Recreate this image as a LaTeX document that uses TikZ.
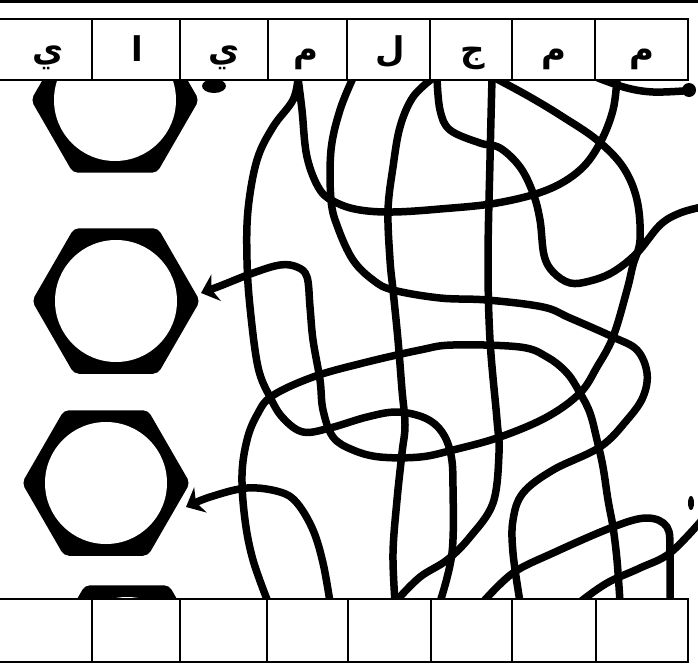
\documentclass[tikz,border=0pt]{standalone}
\usepackage{fontspec}
\newfontfamily\arabicfont[Script=Arabic]{DejaVu Sans}
\TeXXeTstate=1
\usetikzlibrary{arrows.meta}
\newcommand\mynut[1]{%
  \fill[black, rounded corners=5] (#1) ++(0:84) -- ++(120:84) -- ++(180:84) -- ++(240:84) -- ++(300:84) -- ++(0:84) -- cycle;
  \fill[white] (#1) circle (61);
}
\begin{document}
\begin{tikzpicture}[x=1pt,y=-1pt,
  wire/.style={line width=7.5, line cap=round, line join=round},
  boxline/.style={line width=2},
  letter/.style={font=\arabicfont\bfseries\fontsize{34}{34}\selectfont, inner sep=0, anchor=base},
  tiparrow/.style={-{Stealth[length=16, width=28, inset=5]}}]
\useasboundingbox (0,0) rectangle (698,669);
\fill[white] (0,0) rectangle (698,669);

\begin{scope}
\clip (-5,80) rectangle (705,599);
% hexagon nuts
\coordinate (h1) at (115,100);
\coordinate (h2) at (116,301);
\coordinate (h3) at (106,483);
\coordinate (h4) at (127,658);
\mynut{h1}
\mynut{h2}
\mynut{h3}
\mynut{h4}

% small blob under box 3
\fill (214,86) ellipse (12 and 7);

% wires
\draw[wire] plot[smooth, tension=0.6] coordinates {(298,78) (293,100) (273,127) (257,160) (248,210) (247,260) (250,307) (258,367) (270,397) (283,418) (303,432) (330,428) (367,417) (397,412) (425,418) (442,432) (451,455) (453,487) (452,553) (440,602)};
\draw[wire] plot[smooth, tension=0.6] coordinates {(298,78) (302,110) (307,157) (320,190) (337,203) (360,210) (393,212) (440,209) (497,203) (547,190) (580,170) (600,143) (613,110) (617,78)};
\draw[wire] plot[smooth, tension=0.6] coordinates {(353,78) (340,110) (331,150) (331,200) (338,228) (353,260) (373,280) (393,290) (440,298) (487,300) (543,307) (570,318) (613,337) (637,350) (647,373) (643,397) (627,420) (600,447) (553,470) (523,493) (513,520) (513,553) (520,602)};
\draw[wire] plot[smooth, tension=0.6] coordinates {(433,78) (413,97) (400,127) (393,167) (388,210) (390,260) (393,290) (398,340) (402,390) (405,425) (402,453) (397,500) (393,553) (395,602)};
\draw[wire] plot[smooth, tension=0.6] coordinates {(437,78) (440,110) (450,130) (480,143) (500,148) (520,167) (533,193) (540,220) (544,255) (553,272) (570,283) (590,281) (613,272) (637,253) (660,225) (680,213) (702,207)};
\draw[wire] plot[smooth, tension=0.6] coordinates {(492,78) (490,160) (488,260) (490,340) (497,420) (499,453) (493,503) (470,537) (447,560) (420,577) (397,600)};
\draw[wire] plot[smooth, tension=0.6] coordinates {(268,602) (253,560) (245,520) (242,475) (247,440) (257,415) (272,396) (313,377) (363,363) (420,350) (453,345) (520,347) (547,357) (567,373) (580,393) (590,413) (597,440) (603,467) (608,500) (613,527) (617,560) (620,602)};
\draw[wire] plot[smooth, tension=0.6] coordinates {(483,602) (513,573) (553,553) (613,527) (647,518) (667,527) (670,553) (670,602)};
\draw[wire] plot[smooth, tension=0.6] coordinates {(580,602) (607,583) (640,568) (670,553) (702,520)};
\draw[wire] plot[smooth, tension=0.6] coordinates {(598,78) (627,88) (653,92) (683,91)};
\fill (689,90) circle (7);
\fill (691,503) ellipse (3 and 7);

% wires ending in arrows at the nuts
\coordinate (a2) at (201,293);
\coordinate (a3) at (186,507);
\draw[wire, tiparrow] plot[smooth, tension=0.6] coordinates {(495,78) (530,97) (563,117) (597,140) (623,167) (637,200) (640,240) (633,265) (627,290) (613,337) (597,367) (580,393) (547,417) (500,437) (453,450) (420,457) (380,457) (353,450) (333,437) (323,410) (320,380) (313,340) (310,307) (307,277) (297,267) (280,265) (253,273) (220,286) (a2)};
\draw[wire, tiparrow] plot[smooth, tension=0.6] coordinates {(330,602) (323,563) (313,530) (297,503) (280,492) (247,488) (210,497) (a3)};
\end{scope}

% top row of boxes
\draw[line width=3] (0,2) -- (698,2);
\draw[boxline] (-2,19) -- (688,19) -- (688,80) -- (-2,80);
\foreach \x in {92,180,268,347,430,512,595} \draw[boxline] (\x,19) -- (\x,80);
\node[letter] (t1) at (48,61) {\beginR ي\endR};
\node[letter] (t2) at (137,61) {\beginR ا\endR};
\node[letter] (t3) at (224,61) {\beginR ي\endR};
\node[letter] (t4) at (306,61) {\beginR م\endR};
\node[letter] (t5) at (390,61) {\beginR ل\endR};
\node[letter] (t6) at (473,61) {\beginR ج\endR};
\node[letter] (t7) at (554,61) {\beginR م\endR};
\node[letter] (t8) at (642,61) {\beginR م\endR};

% bottom row of boxes
\draw[boxline] (-2,599) -- (688,599) -- (688,662) -- (-2,662);
\foreach \x in {92,180,267,348,431,512,596} \draw[boxline] (\x,599) -- (\x,662);
\end{tikzpicture}
\end{document}
